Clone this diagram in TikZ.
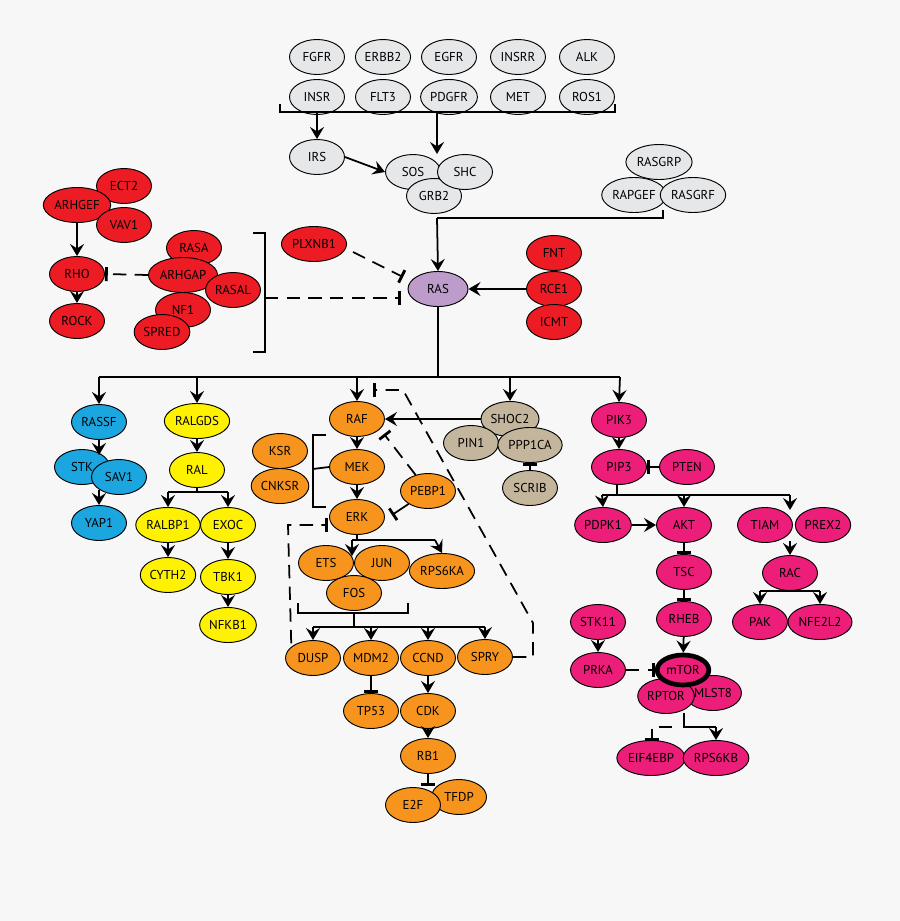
\documentclass[tikz,border=0pt]{standalone}
\usepackage{fontspec}
\setmainfont{PT Sans}
\usetikzlibrary{shapes.geometric,arrows.meta}
\definecolor{bgc}{HTML}{F7F7F7}
\definecolor{cgr}{HTML}{E6E7E8}
\definecolor{cred}{HTML}{ED1C24}
\definecolor{cpur}{HTML}{BD9CCB}
\definecolor{cblu}{HTML}{1CA6E0}
\definecolor{cyel}{HTML}{FFF200}
\definecolor{cora}{HTML}{F7941D}
\definecolor{ctan}{HTML}{C4B69C}
\definecolor{cpnk}{HTML}{EC1E79}
\tikzset{
 g/.style={ellipse,draw=black,line width=0.8pt,minimum width=1.65cm,minimum height=1.05cm,inner sep=1pt,font=\fontsize{11}{12}\selectfont},
 gr/.style={g,fill=cgr}, rd/.style={g,fill=cred}, bl/.style={g,fill=cblu},
 ye/.style={g,fill=cyel}, or/.style={g,fill=cora}, tn/.style={g,fill=ctan}, pk/.style={g,fill=cpnk},
 ln/.style={line width=1.5pt},
 act/.style={ln,-{Stealth[length=0.36cm,width=0.42cm,inset=0.13cm]}},
 inh/.style={ln,-{Bar[width=0.42cm,line width=2.4pt]}},
 dsh/.style={dash pattern=on 0.4cm off 0.25cm}
}
\begin{document}
\begin{tikzpicture}[x=0.03cm,y=-0.03cm]
\fill[bgc] (0,0) rectangle (900,921);
% grey receptors
\node[gr] (fgfr) at (317,57) {FGFR};
\node[gr] (erbb2) at (383,57) {ERBB2};
\node[gr] (egfr) at (449,57) {EGFR};
\node[gr] (insrr) at (518,57) {INSRR};
\node[gr] (alk) at (587,57) {ALK};
\node[gr] (insr) at (317,97) {INSR};
\node[gr] (flt3) at (383,97) {FLT3};
\node[gr] (pdgfr) at (449,97) {PDGFR};
\node[gr] (met) at (518,97) {MET};
\node[gr] (ros1) at (587,97) {ROS1};
\node[gr] (irs) at (317,157) {IRS};
\node[gr] (sos) at (413,172) {SOS};
\node[gr] (grb2) at (434,196) {GRB2};
\node[gr] (shc) at (465,172) {SHC};
\node[gr] (rasgrp) at (659,162) {RASGRP};
\node[gr] (rapgef) at (634,195) {RAPGEF};
\node[gr] (rasgrf) at (693,195) {RASGRF};
\coordinate (rl) at (280,112); \coordinate (rr) at (615,112);
\draw[ln] (280,104) -- (rl) -- (rr) -- (615,104);
\draw[act] (317,112) -- (irs);
\draw[act] (437,112) -- (437,154);
\draw[act] (irs.east) -- (sos.west);
% RAS
\node[g,fill=cpur,minimum width=1.8cm] (ras) at (438,289) {RAS};
\coordinate (gj) at (663,210);
\draw[ln] (gj) -- (663,218) -- (437,218);
\draw[act] (437,218) -- (ras.north);
% red
\node[rd] (ect2) at (124,186) {ECT2};
\node[rd] (arhgef) at (77,205) {ARHGEF};
\node[rd] (vav1) at (124,225) {VAV1};
\node[rd] (rho) at (77,274) {RHO};
\node[rd] (rock) at (77,321) {ROCK};
\node[rd] (rasa) at (194,248) {RASA};
\node[rd] (arhgap) at (183,275) {ARHGAP};
\node[rd] (rasal) at (233,290) {RASAL};
\node[rd] (nf1) at (183,310) {NF1};
\node[rd] (spred) at (162,332) {SPRED};
\node[rd] (plxnb1) at (314,244) {PLXNB1};
\node[rd] (fnt) at (554,253) {FNT};
\node[rd] (rce1) at (554,289) {RCE1};
\node[rd] (icmt) at (554,322) {ICMT};
\draw[act] (arhgef) -- (rho);
\draw[act] (rho) -- (rock);
\draw[inh,dsh] (arhgap.west) -- (rho.east);
\draw[ln] (253,233) -- (265,233) -- (265,352) -- (253,352);
\coordinate (bm) at (265,298);
\draw[inh,dsh] (bm) -- (401,298);
\draw[inh,dsh] (plxnb1.east) ++(6,8) -- (403,277);
\draw[act] (rce1.west) -- (ras.east);
% RAS branch
\coordinate (rb) at (438,377);
\draw[ln] (ras.south) -- (rb);
\draw[ln] (99,377) -- (620,377);
% blue
\node[bl] (rassf) at (99,422) {RASSF};
\node[bl] (stk) at (82,467) {STK};
\node[bl] (sav1) at (119,477) {SAV1};
\node[bl] (yap1) at (99,523) {YAP1};
\draw[act] (99,377) -- (rassf.north);
\draw[act] (rassf.south) -- (99,455);
\draw[act] (99,490) -- (yap1.north);
% yellow
\node[ye] (ralgds) at (197,421) {RALGDS};
\node[ye] (ral) at (197,470) {RAL};
\node[ye] (ralbp1) at (168,525) {RALBP1};
\node[ye] (exoc) at (228,525) {EXOC};
\node[ye] (cyth2) at (168,575) {CYTH2};
\node[ye] (tbk1) at (228,577) {TBK1};
\node[ye] (nfkb1) at (228,625) {NFKB1};
\draw[act] (197,377) -- (ralgds.north);
\draw[act] (ralgds) -- (ral);
\draw[ln] (ral.south) -- (197,492); \draw[ln] (168,492) -- (228,492);
\draw[act] (168,492) -- (ralbp1.north);
\draw[act] (228,492) -- (exoc.north);
\draw[act] (ralbp1) -- (cyth2);
\draw[act] (exoc) -- (tbk1);
\draw[act] (tbk1) -- (nfkb1);
% orange
\node[or] (raf) at (357,419) {RAF};
\node[or] (ksr) at (280,451) {KSR};
\node[or] (cnksr) at (280,486) {CNKSR};
\node[or] (mek) at (357,467) {MEK};
\node[or] (erk) at (357,517) {ERK};
\node[or] (pebp1) at (428,491) {PEBP1};
\node[or] (ets) at (326,563) {ETS};
\node[or] (jun) at (382,563) {JUN};
\node[or] (rps6ka) at (442,571) {RPS6KA};
\node[or] (fos) at (354,593) {FOS};
\node[or] (dusp) at (313,658) {DUSP};
\node[or] (mdm2) at (371,658) {MDM2};
\node[or] (ccnd) at (428,658) {CCND};
\node[or] (spry) at (485,657) {SPRY};
\node[or] (tp53) at (371,711) {TP53};
\node[or] (cdk) at (428,711) {CDK};
\node[or] (rb1) at (428,756) {RB1};
\node[or] (tfdp) at (459,797) {TFDP};
\node[or] (e2f) at (413,805) {E2F};
\draw[act] (357,377) -- (raf.north);
\draw[act] (raf) -- (mek);
\draw[act] (mek) -- (erk);
\draw[ln] (326,435) -- (313,435) -- (313,507) -- (326,507);
\draw[ln] (313,469) -- (mek.west);
\draw[ln] (erk.south) -- (357,540); \draw[ln] (352,540) -- (435,540);
\draw[act] (352,540) -- (352,556);
\draw[act] (435,540) -- (rps6ka.north);
\draw[ln] (298,603) -- (298,613) -- (408,613) -- (408,603);
\draw[ln] (354,613) -- (354,627); \draw[ln] (313,627) -- (485,627);
\draw[act] (313,627) -- (dusp.north);
\draw[act] (371,627) -- (mdm2.north);
\draw[act] (428,627) -- (ccnd.north);
\draw[act] (485,627) -- (spry.north);
\draw[inh] (mdm2) -- (tp53);
\draw[act] (ccnd) -- (cdk);
\draw[act] (cdk) -- (rb1);
\draw[inh] (rb1.south) -- (428,786);
\draw[inh,dsh] (pebp1) -- (384,434);
\draw[inh] (pebp1) -- (392,515);
\draw[inh,dsh] (dusp.north west) ++(-2,-2) -- (288,525) -- (328,525);
\draw[inh,dsh] (spry.east) -- (533,657) -- (533,623) -- (403,390) -- (373,390);
% tan
\node[tn] (shoc2) at (510,419) {SHOC2};
\node[tn] (pin1) at (471,443) {PIN1};
\node[tn] (ppp1ca) at (530,445) {PPP1CA};
\node[tn] (scrib) at (530,488) {SCRIB};
\draw[act] (510,377) -- (shoc2.north);
\draw[act] (shoc2.west) -- (raf.east);
\draw[inh] (scrib) -- (ppp1ca);
% pink
\node[pk] (pik3) at (619,420) {PIK3};
\node[pk] (pip3) at (619,467) {PIP3};
\node[pk] (pten) at (687,467) {PTEN};
\node[pk] (pdpk1) at (603,525) {PDPK1};
\node[pk] (akt) at (684,525) {AKT};
\node[pk] (tiam) at (765,525) {TIAM};
\node[pk] (prex2) at (823,525) {PREX2};
\node[pk] (tsc) at (684,572) {TSC};
\node[pk] (rac) at (790,573) {RAC};
\node[pk] (rheb) at (684,619) {RHEB};
\node[pk] (stk11) at (598,622) {STK11};
\node[pk] (pak) at (760,622) {PAK};
\node[pk] (nfe2l2) at (820,622) {NFE2L2};
\node[pk] (prka) at (598,670) {PRKA};
\node[pk] (mlst8) at (713,693) {MLST8};
\node[pk] (rptor) at (666,696) {RPTOR};
\node[pk,line width=4pt,minimum width=1.55cm,minimum height=0.9cm] (mtor) at (683,670) {mTOR};
\node[pk] (eif4ebp) at (651,758) {EIF4EBP};
\node[pk] (rps6kb) at (716,758) {RPS6KB};
\draw[act] (620,377) -- (pik3.north);
\draw[act] (pik3) -- (pip3);
\draw[inh] (pten) -- (pip3);
\draw[ln] (617,484) -- (617,495); \draw[ln] (602,495) -- (790,495);
\draw[act] (602,495) -- (pdpk1.north);
\draw[act] (684,495) -- (akt.north);
\draw[act] (790,495) -- (790,510);
\draw[act] (pdpk1) -- (akt);
\draw[inh] (akt) -- (tsc);
\draw[inh] (tsc) -- (rheb);
\draw[act] (rheb) -- (mtor);
\draw[act] (790,541) -- (rac.north);
\draw[ln] (rac.south) -- (790,591); \draw[ln] (760,591) -- (820,591);
\draw[act] (760,591) -- (pak.north);
\draw[act] (820,591) -- (nfe2l2.north);
\draw[act] (stk11) -- (prka);
\draw[inh,dsh] (prka) -- (mtor);
\draw[ln] (684,713) -- (684,727) -- (716,727);
\draw[act] (716,727) -- (rps6kb.north);
\draw[inh,dsh] (672,727) -- (652,727) -- (652,741);
\end{tikzpicture}
\end{document}
